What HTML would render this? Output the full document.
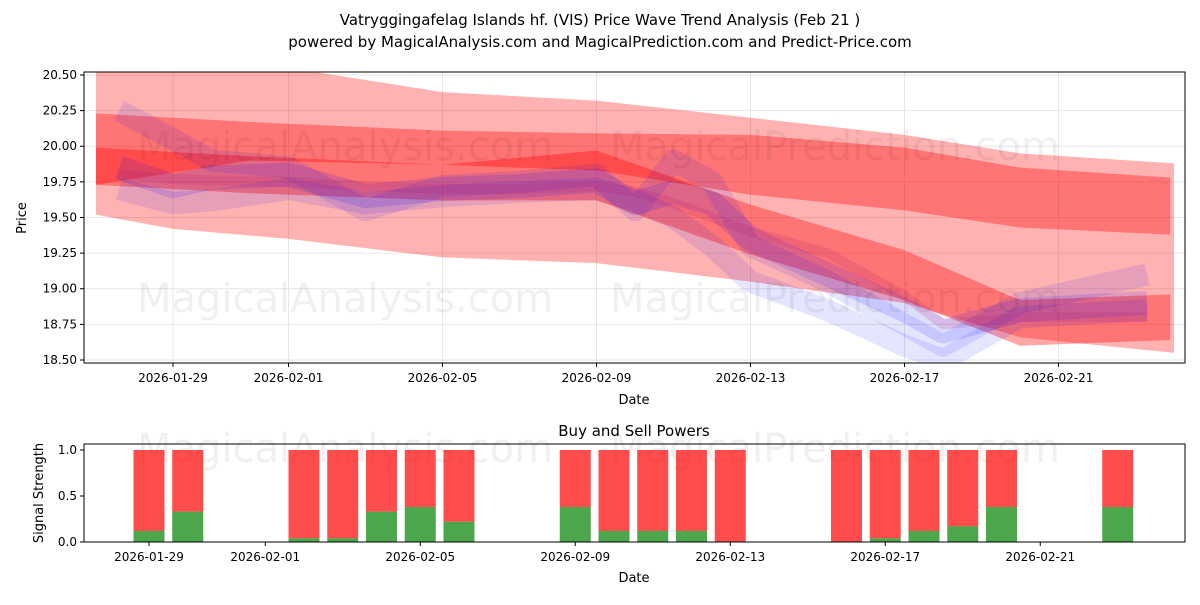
<!DOCTYPE html>
<html><head><meta charset="utf-8"><style>
body{margin:0;background:#fff;font-family:"Liberation Sans","DejaVu Sans",sans-serif}
svg text{font-family:"DejaVu Sans","Liberation Sans",sans-serif}
</style></head><body>
<svg id="c" width="1200" height="600" xmlns="http://www.w3.org/2000/svg">
<text x="600" y="25" text-anchor="middle" font-size="15">Vatryggingafelag Islands hf. (VIS) Price Wave Trend Analysis (Feb 21 )</text>
<text x="600" y="47" text-anchor="middle" font-size="15">powered by MagicalAnalysis.com and MagicalPrediction.com and Predict-Price.com</text>
<defs><clipPath id="cp1"><rect x="84" y="72" width="1101" height="291"/></clipPath></defs>
<g id="topg" clip-path="url(#cp1)"></g>
<g id="topAxes"></g>
<g id="bot"></g>
</svg>
<script>
// ---- data ----
const lightDates=["2026-01-27","2026-01-29","2026-02-01","2026-02-05","2026-02-09","2026-02-13","2026-02-17","2026-02-20","2026-02-24"];
const lightUpper=[20.60,20.58,20.55,20.38,20.32,20.2,20.08,19.95,19.88];
const lightLower=[19.52,19.42,19.35,19.22,19.18,19.05,18.9,18.66,18.55];
const bandDates=["2026-01-27","2026-01-31","2026-02-05","2026-02-09","2026-02-13","2026-02-17","2026-02-20","2026-02-23.9"];
const band1Upper=[20.23,20.17,20.11,20.09,20.08,19.99,19.85,19.78];
const band1Lower=[19.73,19.90,19.87,19.83,19.66,19.55,19.43,19.38];
const band2Upper=[19.99,19.93,19.87,19.97,19.59,19.27,18.92,18.96];
const band2Lower=[19.73,19.67,19.62,19.62,19.24,18.92,18.60,18.64];
const blueDays=[-1.4,0,1,3,5,7,9,11,12,13,14,15,17,19,20,22,25.3];
const blue1=[19.85,19.72,19.78,19.80,19.65,19.70,19.72,19.76,19.60,19.68,19.60,19.35,19.10,18.85,18.70,18.85,18.90];
const blue2=[20.25,20.05,19.90,19.85,19.55,19.72,19.75,19.80,19.55,19.90,19.75,19.30,19.05,18.75,18.60,18.90,19.10];
const blue3=[19.70,19.60,19.62,19.70,19.60,19.65,19.68,19.70,19.62,19.50,19.30,19.05,18.85,18.60,18.50,18.80,18.85];
const purple=[19.80,19.77,19.76,19.75,19.72,19.70,19.70,19.72,19.68,19.60,19.50,19.40,19.25,18.95,18.75,18.80,18.80];
const yTicks=[18.5,18.75,19.0,19.25,19.5,19.75,20.0,20.25,20.5];
const xTickLabels=["2026-01-29","2026-02-01","2026-02-05","2026-02-09","2026-02-13","2026-02-17","2026-02-21"];
const barDates=["2026-01-29","2026-01-30","2026-02-02","2026-02-03","2026-02-04","2026-02-05","2026-02-06","2026-02-09","2026-02-10","2026-02-11","2026-02-12","2026-02-13","2026-02-16","2026-02-17","2026-02-18","2026-02-19","2026-02-20","2026-02-23"];
const buyVals=[0.12,0.33,0.04,0.04,0.33,0.38,0.22,0.38,0.12,0.12,0.12,0,0,0.04,0.12,0.17,0.38,0.38];
const powTicks=[0,0.5,1.0];
// ---- helpers ----
const NS="http://www.w3.org/2000/svg";
const base=Date.UTC(2026,0,29);
function day(s){const p=s.split("-");const d=parseFloat(p[2]);return (Date.UTC(+p[0],+p[1]-1,1)-base)/864e5+d-1;}
function X(d){return 173+d*38.5;}
function Y(v){return 72+(20.521-v)*142.5;}
function XB(d){return 149+d*38.75;}
function YB(v){return 542-v*92;}
function mk(tag,attrs,parent){const e=document.createElementNS(NS,tag);for(const k in attrs)e.setAttribute(k,attrs[k]);parent.appendChild(e);return e;}
const topG=document.getElementById("topg"),ta=document.getElementById("topAxes"),bot=document.getElementById("bot");
// grid
for(const t of yTicks){const g=mk("line",{x1:84,x2:1185,y1:Y(t),y2:Y(t),stroke:"#e6e6e6"},topG);

}
for(const l of xTickLabels){const g=mk("line",{x1:X(day(l)),x2:X(day(l)),y1:72,y2:363,stroke:"#e6e6e6"},topG);

}
function band(dates,up,lo,fill,op,name){
 let pts=dates.map((d,i)=>X(day(d))+","+Y(up[i]));
 pts=pts.concat(dates.map((d,i)=>X(day(d))+","+Y(lo[i])).reverse());
 const p=mk("polygon",{points:pts.join(" "),fill:fill,"fill-opacity":op},topG);
 
 
}
band(lightDates,lightUpper,lightLower,"#ff0000",0.3,"outer-red-band");
band(bandDates,band1Upper,band1Lower,"#ff0000",0.35,"upper-red-band");
band(bandDates,band2Upper,band2Lower,"#ff0000",0.35,"lower-red-band");
function wave(vals,col,w,op,name){
 const d=vals.map((v,i)=>(i?"L":"M")+X(blueDays[i])+","+Y(v)).join(" ");
 const p=mk("path",{d:d,fill:"none",stroke:col,"stroke-width":w,"stroke-opacity":op,"stroke-linejoin":"round"},topG);
 
 
}
wave(blue2,"#0000ff",22,0.1,"blue-wave-upper");
wave(blue3,"#0000ff",22,0.1,"blue-wave-lower");
wave(blue1,"#0000ff",24,0.13,"blue-wave-main");
wave(purple,"#b0207a",10,0.18,"purple-wave");
// watermarks
for(const [x,y,t] of [[345,160,"MagicalAnalysis.com"],[835,160,"MagicalPrediction.com"],[345,312,"MagicalAnalysis.com"],[835,312,"MagicalPrediction.com"],[345,462,"MagicalAnalysis.com"],[835,462,"MagicalPrediction.com"]]){
 const w=mk("text",{x:x,y:y,"text-anchor":"middle","font-size":40,fill:"#000","fill-opacity":0.06},ta);w.textContent=t;
 
 
}
// top axes
const f1=mk("rect",{x:84,y:72,width:1101,height:291,fill:"none",stroke:"#000","stroke-width":1},ta);


for(const t of yTicks){mk("line",{x1:80,x2:84,y1:Y(t),y2:Y(t),stroke:"#000"},ta);
 const e=mk("text",{x:77,y:Y(t)+4,"text-anchor":"end","font-size":12},ta);e.textContent=t.toFixed(2);
 
 }
for(const l of xTickLabels){const x=X(day(l));mk("line",{x1:x,x2:x,y1:363,y2:367,stroke:"#000"},ta);
 const e=mk("text",{x:x,y:382,"text-anchor":"middle","font-size":12},ta);e.textContent=l;
 
 }
let e=mk("text",{x:634,y:404,"text-anchor":"middle","font-size":13},ta);e.textContent="Date";


e=mk("text",{x:26,y:218,"text-anchor":"middle","font-size":13,transform:"rotate(-90 26 218)"},ta);e.textContent="Price";


// bottom chart
e=mk("text",{x:634,y:436,"text-anchor":"middle","font-size":15},bot);e.textContent="Buy and Sell Powers";


barDates.forEach((d,i)=>{
 const x=XB(day(d))-15.5;
 const r=mk("rect",{x:x,y:YB(1),width:31,height:YB(buyVals[i])-YB(1),fill:"#ff0000","fill-opacity":0.7},bot);
 
 
 const g=mk("rect",{x:x,y:YB(buyVals[i]),width:31,height:YB(0)-YB(buyVals[i]),fill:"#008000","fill-opacity":0.7},bot);
 
 
});
const f2=mk("rect",{x:84,y:444,width:1101,height:98,fill:"none",stroke:"#000"},bot);


for(const t of powTicks){mk("line",{x1:80,x2:84,y1:YB(t),y2:YB(t),stroke:"#000"},bot);
 const e2=mk("text",{x:77,y:YB(t)+4,"text-anchor":"end","font-size":12},bot);e2.textContent=t.toFixed(1);
 
 }
for(const l of xTickLabels){const x=XB(day(l));mk("line",{x1:x,x2:x,y1:542,y2:546,stroke:"#000"},bot);
 const e2=mk("text",{x:x,y:561,"text-anchor":"middle","font-size":12},bot);e2.textContent=l;
 
 }
e=mk("text",{x:634,y:582,"text-anchor":"middle","font-size":13},bot);e.textContent="Date";


e=mk("text",{x:43,y:493,"text-anchor":"middle","font-size":13,transform:"rotate(-90 43 493)"},bot);e.textContent="Signal Strength";


</script>
</body></html>
